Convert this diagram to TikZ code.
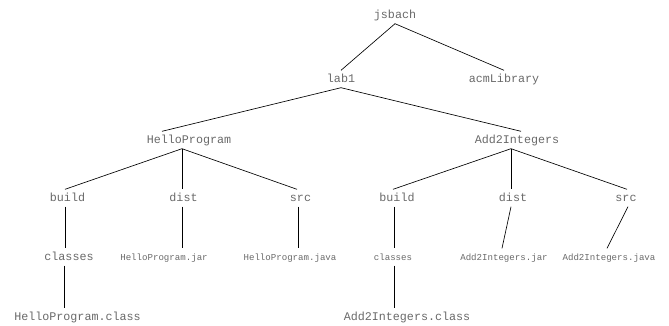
\documentclass[tikz,border=0pt]{standalone}
\usepackage{fontspec}
\setmonofont{Liberation Mono}
\definecolor{labelgray}{RGB}{105,105,105}
\tikzset{
	entry/.style={inner sep=0pt,minimum height=17pt,text height=7pt,text depth=0pt,
		text=labelgray,font=\ttfamily\fontsize{11.7}{12}\selectfont},
	smallentry/.style={entry,font=\ttfamily\fontsize{9.1}{10}\selectfont},
	branch/.style={line width=0.65pt}
}
\begin{document}
\begin{tikzpicture}[x=1pt,y=-1pt]
		
		\useasboundingbox (0,0) rectangle (669,325);
		
		% Top levels
		\node[entry] (js) at (395,15) {jsbach};
		\node[entry] (lab) at (341,79) {lab1};
		\node[entry] (acm) at (504,79) {acmLibrary};
		\node[entry] (hp) at (189,140) {HelloProgram};
		\node[entry] (ai) at (517,140) {Add2Integers};
		
		% HelloProgram subtree
		\node[entry] (hpbuild) at (67.5,198) {build};
		\node[entry] (hpdist) at (183.5,198) {dist};
		\node[entry] (hpsrc) at (300.5,198) {src};
		\node[entry] (hpclasses) at (69,257) {classes};
		\node[smallentry] (hpjar) at (164,257) {HelloProgram.jar};
		\node[smallentry] (hpjava) at (290,257) {HelloProgram.java};
		\node[entry] (hpclass) at (77.5,317) {HelloProgram.class};
		
		% Add2Integers subtree
		\node[entry] (aibuild) at (397,198) {build};
		\node[entry] (aidist) at (513,198) {dist};
		\node[entry] (aisrc) at (626,198) {src};
		\node[smallentry] (aiclasses) at (393,257) {classes};
		\node[smallentry] (aijar) at (504,257) {Add2Integers.jar};
		\node[smallentry] (aijava) at (609,257) {Add2Integers.java};
		\node[entry] (aiclass) at (407,317) {Add2Integers.class};
		
		% Branches from the top
		\draw[branch] (js.south) -- (lab.north);
		\draw[branch] (js.south) -- (acm.north);
		\draw[branch] (lab.south) -- ([xshift=-27pt]hp.north);
		\draw[branch] (lab.south) -- ([xshift=4pt]ai.north);
		
		% Branches of HelloProgram
		\draw[branch] ([xshift=-7pt]hp.south) -- ([xshift=-2.5pt]hpbuild.north);
		\draw[branch] ([xshift=-7pt]hp.south) -- ([xshift=-1.5pt]hpdist.north);
		\draw[branch] ([xshift=-7pt]hp.south) -- ([xshift=-3.5pt]hpsrc.north);
		\draw[branch] ([xshift=-2.5pt]hpbuild.south) -- ([xshift=-4pt]hpclasses.north);
		\draw[branch] ([xshift=-5pt]hpclasses.south) -- ([xshift=-13.5pt]hpclass.north);
		\draw[branch] ([xshift=-1.5pt]hpdist.south) -- ([xshift=18pt]hpjar.north);
		\draw[branch] ([xshift=-2.5pt]hpsrc.south) -- ([xshift=8pt]hpjava.north);
		
		% Branches of Add2Integers
		\draw[branch] ([xshift=-6pt]ai.south) -- ([xshift=-4pt]aibuild.north);
		\draw[branch] ([xshift=-6pt]ai.south) -- ([xshift=-2pt]aidist.north);
		\draw[branch] ([xshift=-6pt]ai.south) -- ([xshift=1pt]aisrc.north);
		\draw[branch] ([xshift=-3pt]aibuild.south) -- ([xshift=1pt]aiclasses.north);
		\draw[branch] ([xshift=1pt]aiclasses.south) -- ([xshift=-13pt]aiclass.north);
		\draw[branch] ([xshift=-2pt]aidist.south) -- ([xshift=-2pt]aijar.north);
		\draw[branch] ([xshift=2pt]aisrc.south) -- ([xshift=-2pt]aijava.north);
		
	\end{tikzpicture}
\end{document}
